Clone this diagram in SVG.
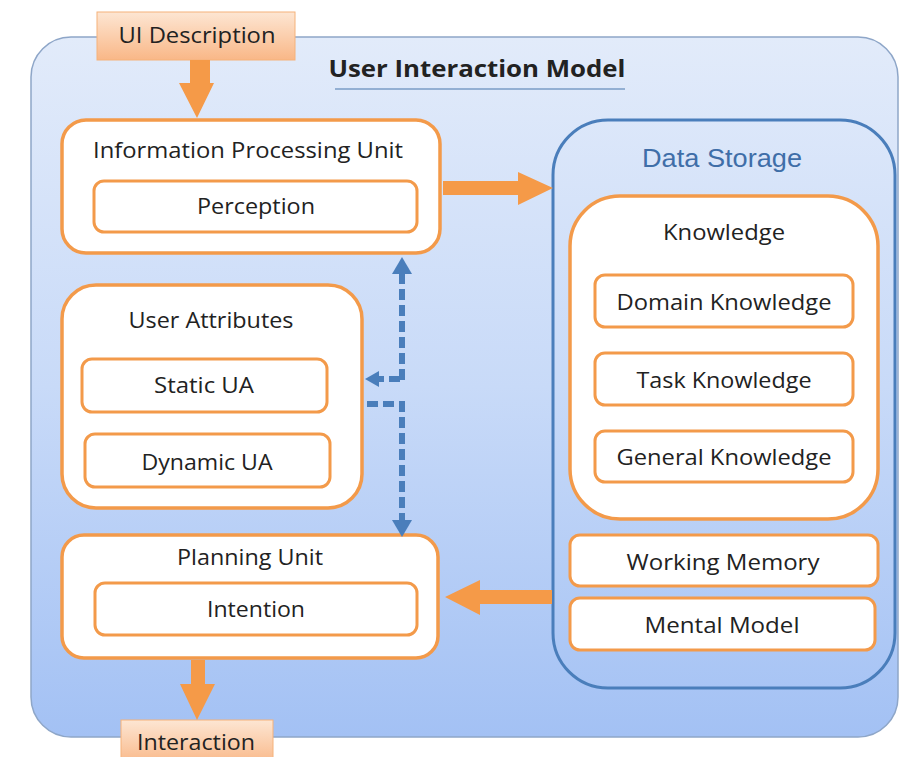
<svg xmlns="http://www.w3.org/2000/svg" width="901" height="757" viewBox="0 0 901 757">
<defs>
<linearGradient id="bg" x1="0" y1="0" x2="0" y2="1">
<stop offset="0" stop-color="#e2ebfa"/>
<stop offset="0.5" stop-color="#c8daf8"/>
<stop offset="1" stop-color="#a3c1f4"/>
</linearGradient>
<linearGradient id="peach" x1="0" y1="0" x2="0" y2="1">
<stop offset="0" stop-color="#fde6d3"/>
<stop offset="1" stop-color="#f9b787"/>
</linearGradient>
</defs>
<style>
.t{font-family:"Open Sans","Liberation Sans",sans-serif;font-size:22px;fill:#222;text-anchor:middle}
.ob{fill:#fff;stroke:#f39a4a;stroke-width:3.5}
.ib{fill:#fff;stroke:#f39a4a;stroke-width:3}
.arr{fill:#f59a48}
.dash{fill:none;stroke:#4a7ebb;stroke-width:6;stroke-dasharray:11 5}
</style>
<rect width="901" height="757" fill="#fff"/>
<g id="container">
<rect x="31" y="37" width="867" height="700" rx="40" fill="url(#bg)" stroke="#8ea6c8" stroke-width="1.5"/>
<text x="477" y="77" class="t" style="font-weight:bold;font-size:23px" textLength="297" lengthAdjust="spacingAndGlyphs">User Interaction Model</text>
<line x1="335" y1="89" x2="625" y2="89" stroke="#7a9cc6" stroke-width="1.5"/>
</g>
<g id="ui-description">
<rect x="97" y="12" width="198" height="48" fill="url(#peach)" stroke="#f5b27a" stroke-width="1"/>
<text x="197" y="43" class="t" textLength="157" lengthAdjust="spacingAndGlyphs">UI Description</text>
</g>
<g id="information-processing-unit">
<rect x="62" y="120" width="378" height="133" rx="24" class="ob"/>
<text x="248" y="158" class="t" textLength="310" lengthAdjust="spacingAndGlyphs">Information Processing Unit</text>
<g id="perception">
<rect x="94" y="181" width="323" height="51" rx="10" class="ib"/>
<text x="256" y="214" class="t" textLength="118" lengthAdjust="spacingAndGlyphs">Perception</text>
</g>
</g>
<g id="user-attributes">
<rect x="62" y="285" width="300" height="223" rx="34" class="ob"/>
<text x="211" y="328" class="t" textLength="165" lengthAdjust="spacingAndGlyphs">User Attributes</text>
<g id="static-ua">
<rect x="82" y="359" width="245" height="53" rx="10" class="ib"/>
<text x="204" y="393" class="t" textLength="100" lengthAdjust="spacingAndGlyphs">Static UA</text>
</g>
<g id="dynamic-ua">
<rect x="85" y="434" width="245" height="53" rx="10" class="ib"/>
<text x="207" y="470" class="t" textLength="131" lengthAdjust="spacingAndGlyphs">Dynamic UA</text>
</g>
</g>
<g id="planning-unit">
<rect x="62" y="535" width="376" height="123" rx="22" class="ob"/>
<text x="250" y="565" class="t" textLength="146" lengthAdjust="spacingAndGlyphs">Planning Unit</text>
<g id="intention">
<rect x="95" y="583" width="322" height="52" rx="10" class="ib"/>
<text x="256" y="617" class="t" textLength="98" lengthAdjust="spacingAndGlyphs">Intention</text>
</g>
</g>
<g id="interaction">
<rect x="121" y="720" width="152" height="45" fill="url(#peach)" stroke="#f5b27a" stroke-width="1"/>
<text x="196" y="750" class="t" textLength="118" lengthAdjust="spacingAndGlyphs">Interaction</text>
</g>
<g id="data-storage">
<rect x="553" y="120" width="342" height="568" rx="55" fill="none" stroke="#4a7ebb" stroke-width="3"/>
<text x="722" y="167" style="font-family:'Liberation Sans',Arial,sans-serif;font-size:26px;fill:#3f6ea8;text-anchor:middle" textLength="160" lengthAdjust="spacingAndGlyphs">Data Storage</text>
<g id="knowledge">
<rect x="570" y="196" width="308" height="323" rx="50" class="ob"/>
<text x="724" y="240" class="t" textLength="122" lengthAdjust="spacingAndGlyphs">Knowledge</text>
<g id="domain-knowledge">
<rect x="595" y="275" width="258" height="52" rx="10" class="ib"/>
<text x="724" y="310" class="t" textLength="215" lengthAdjust="spacingAndGlyphs">Domain Knowledge</text>
</g>
<g id="task-knowledge">
<rect x="595" y="353" width="258" height="52" rx="10" class="ib"/>
<text x="724" y="388" class="t" textLength="175" lengthAdjust="spacingAndGlyphs">Task Knowledge</text>
</g>
<g id="general-knowledge">
<rect x="595" y="431" width="258" height="51" rx="10" class="ib"/>
<text x="724" y="465" class="t" textLength="215" lengthAdjust="spacingAndGlyphs">General Knowledge</text>
</g>
</g>
<g id="working-memory">
<rect x="570" y="535" width="308" height="51" rx="10" class="ib"/>
<text x="723" y="570" class="t" textLength="193" lengthAdjust="spacingAndGlyphs">Working Memory</text>
</g>
<g id="mental-model">
<rect x="570" y="598" width="305" height="52" rx="10" class="ib"/>
<text x="722" y="633" class="t" textLength="155" lengthAdjust="spacingAndGlyphs">Mental Model</text>
</g>
</g>
<g id="connectors">
<polygon class="arr" points="190,60 210,60 210,83 214,83 197,118 179,83 190,83"/>
<polygon class="arr" points="443,181 518,181 518,172 553,188 518,205 518,195 443,195"/>
<polygon class="arr" points="552,590 480,590 480,580 445,597 480,615 480,604 552,604"/>
<polygon class="arr" points="191,660 205,660 205,684 215,684 197,720 180,684 191,684"/>
<polyline class="dash" points="402,380 402,272"/>
<polygon points="402,257 412,274 392,274" fill="#4a7ebb"/>
<polyline class="dash" points="400,379 378,379"/>
<polygon points="365,379 379,371 379,387" fill="#4a7ebb"/>
<polyline class="dash" points="367,404 402,404 402,522"/>
<polygon points="402,537 392,520 412,520" fill="#4a7ebb"/>
</g>
</svg>
